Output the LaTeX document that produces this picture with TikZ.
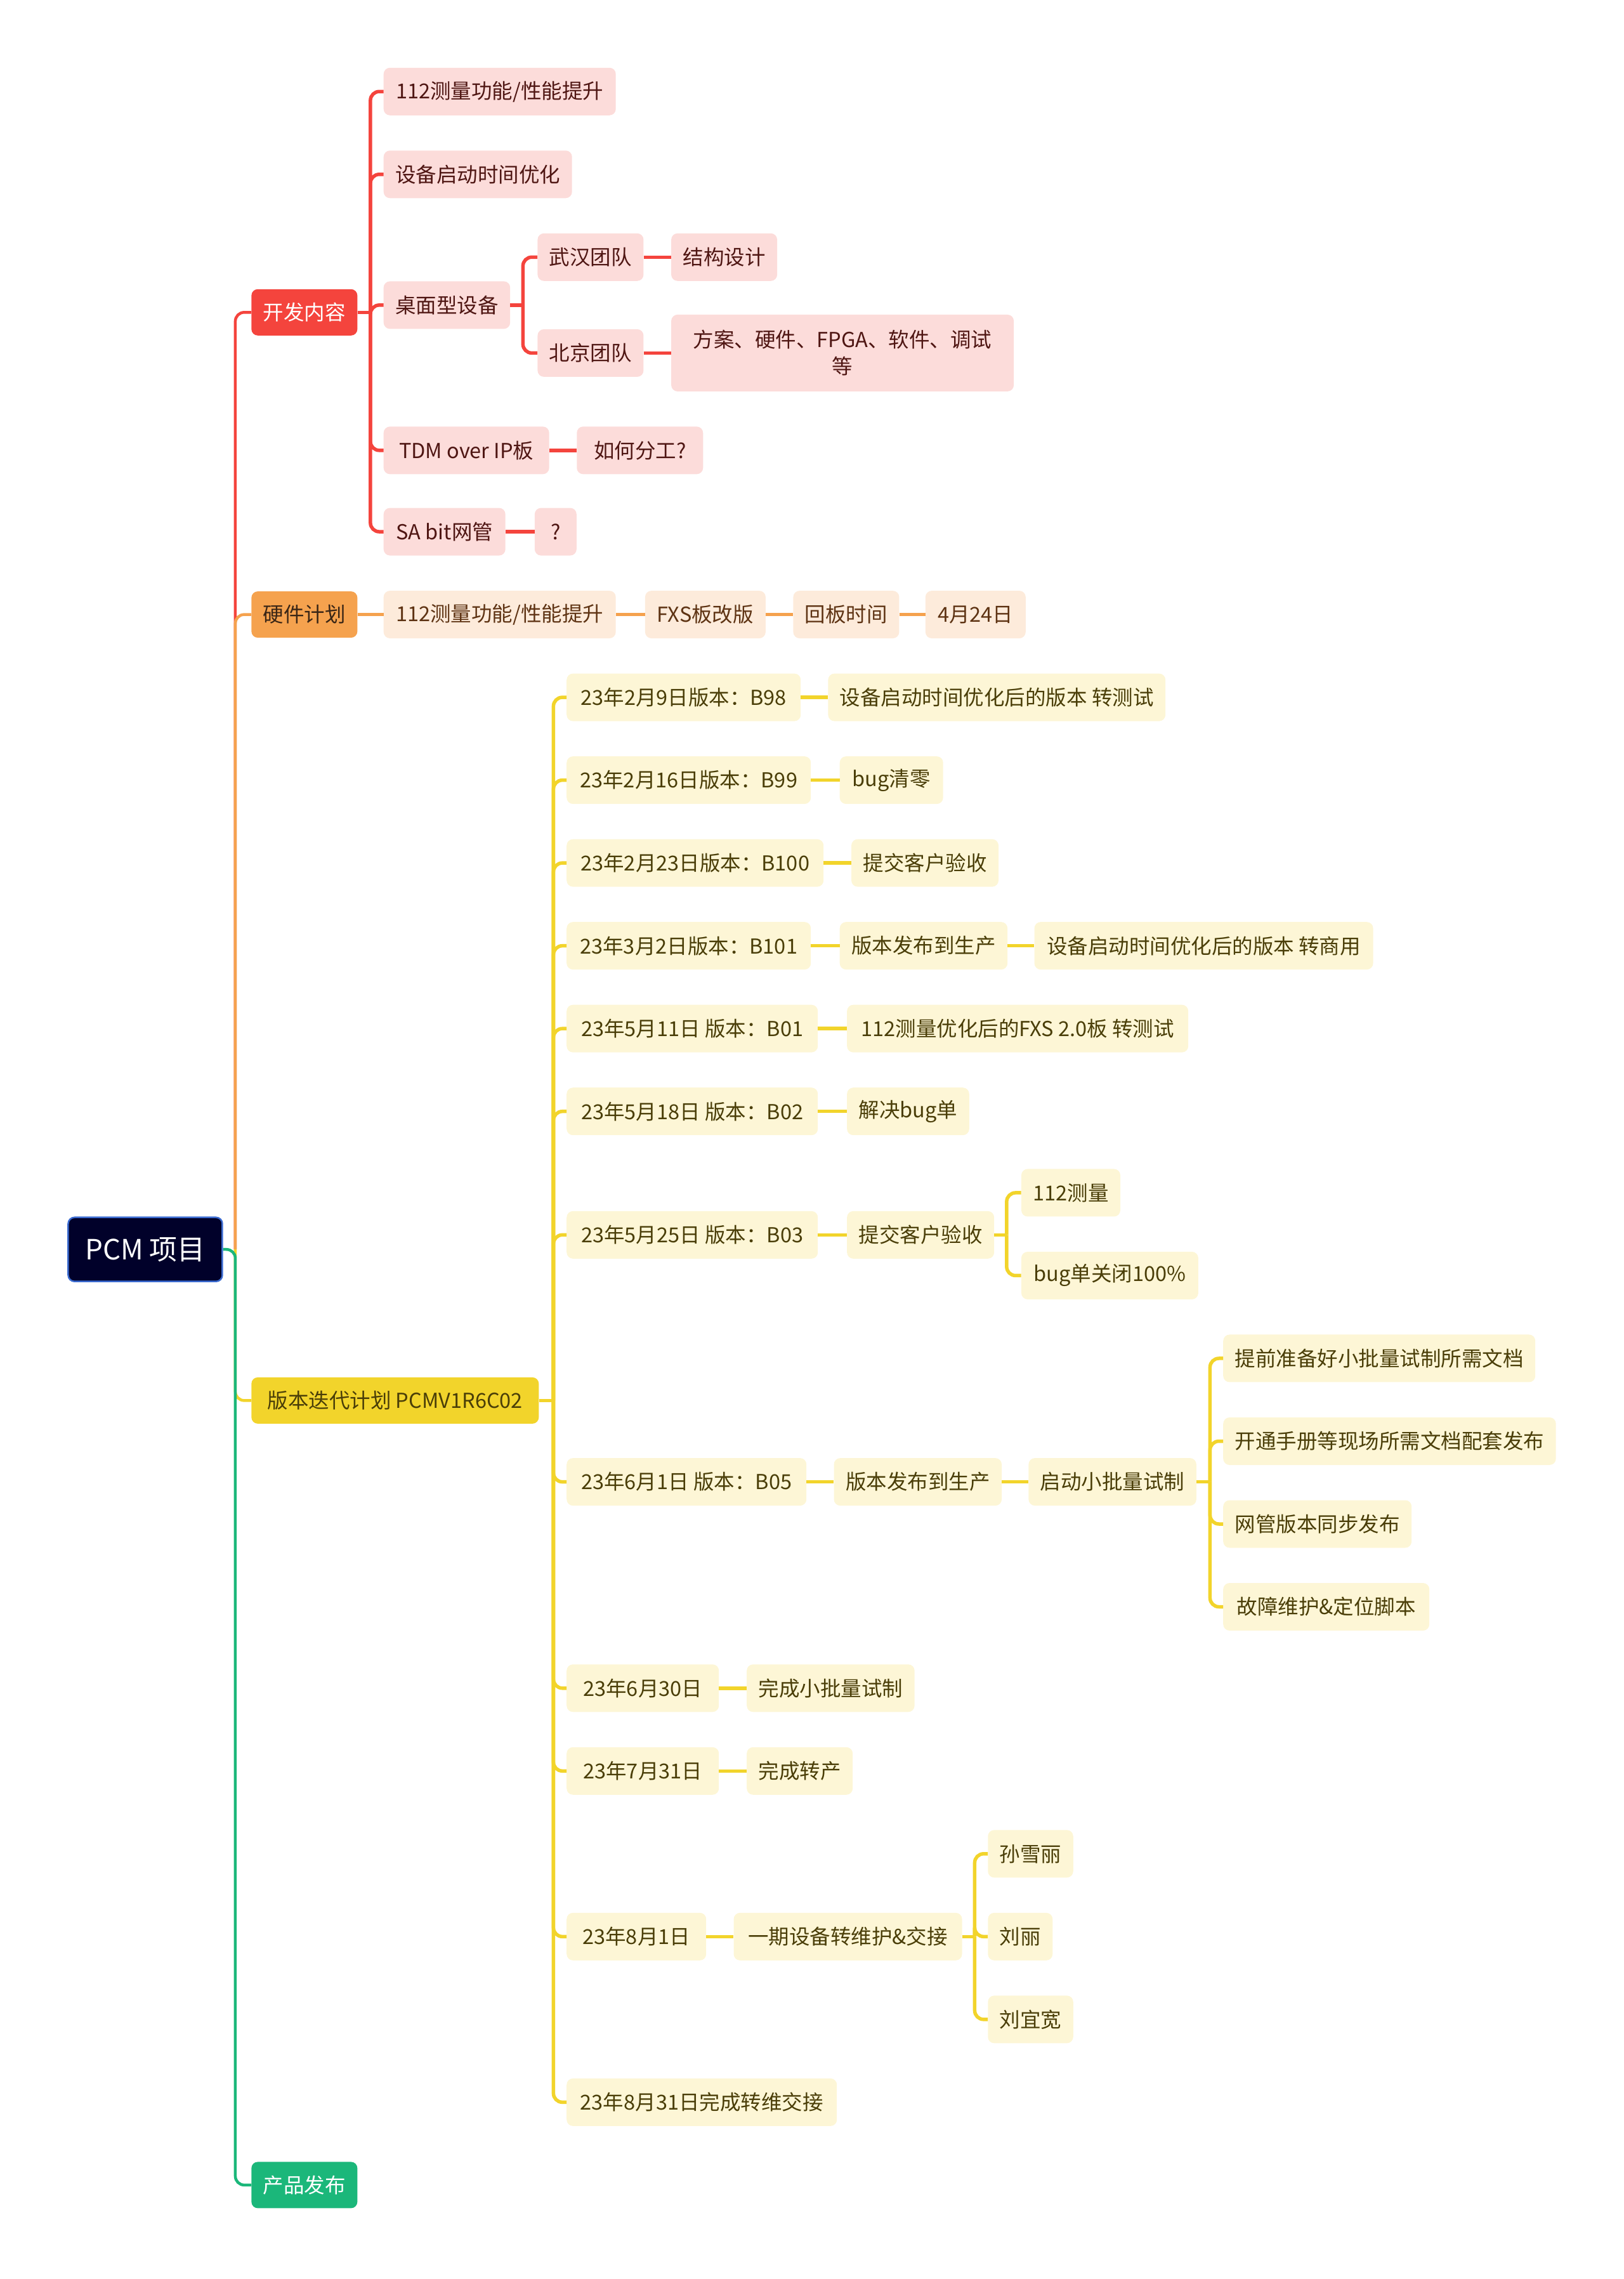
\documentclass[tikz,border=0pt]{standalone}
\usepackage{fontspec}
\setmainfont{Noto Sans CJK SC}

\definecolor{rootfill}{HTML}{01012A}
\definecolor{rootline}{HTML}{3A6AD0}
\definecolor{devred}{HTML}{F4443D}
\definecolor{devlight}{HTML}{FCDCDA}
\definecolor{devtext}{HTML}{4F1613}
\definecolor{hwor}{HTML}{F5A24E}
\definecolor{hwlight}{HTML}{FDEBDB}
\definecolor{hwtext}{HTML}{5E3313}
\definecolor{hwdark}{HTML}{3A2616}
\definecolor{veryel}{HTML}{F2D42B}
\definecolor{verlight}{HTML}{FDF6D6}
\definecolor{vertext}{HTML}{4A3E08}
\definecolor{relgreen}{HTML}{1BB77A}

\tikzset{
  topic/.style={rounded corners=10pt, minimum height=75pt, inner xsep=18.5pt, inner ysep=0pt,
    anchor=west, font=\fontsize{32.5}{42}\selectfont},
  maintopic/.style={topic, minimum height=73pt},
  devtopic/.style={topic, fill=devlight, text=devtext},
  hwtopic/.style={topic, fill=hwlight, text=hwtext},
  vertopic/.style={topic, fill=verlight, text=vertext},
  trunk/.style={line width=4.5pt, rounded corners=14pt},
  branch/.style={line width=5.5pt, rounded corners=14pt}
}

\begin{document}
\begin{tikzpicture}[x=2.2898pt, y=-2.2898pt]
\useasboundingbox (0,0) rectangle (1118,1568.7);

% root
\node[rounded corners=10pt, fill=rootfill, draw=rootline, line width=2.5pt, text=white,
  minimum width=243pt, minimum height=101pt, font=\fontsize{44}{50}\selectfont] (pcm) at (100,860) {PCM 项目};

% main topics
\node[maintopic, fill=devred, text=white] (dev) at (173,215) {开发内容};
\node[maintopic, fill=hwor, text=hwdark] (hw) at (173,423) {硬件计划};
\node[maintopic, fill=veryel, text=vertext, minimum width=453pt] (ver) at (173,964) {版本迭代计划 PCMV1R6C02};
\node[maintopic, fill=relgreen, text=white] (rel) at (173,1504) {产品发布};

% 开发内容
\node[devtopic, minimum width=366pt] (dev1) at (264,63) {112测量功能/性能提升};
\node[devtopic] (dev2) at (264,120) {设备启动时间优化};
\node[devtopic] (dev3) at (264,210) {桌面型设备};
\node[devtopic, minimum width=261pt] (dev4) at (264,310) {TDM over IP板};
\node[devtopic, minimum width=192pt] (dev5) at (264,366) {SA bit网管};
\node[devtopic] (wuhan) at (370,177) {武汉团队};
\node[devtopic] (beijing) at (370,243) {北京团队};
\node[devtopic] (struct) at (462,177) {结构设计};
\node[devtopic, align=center, minimum width=540pt, minimum height=121pt] (scheme) at (462,243) {方案、硬件、FPGA、软件、调试\\等};
\node[devtopic, minimum width=199pt] (split) at (397,310) {如何分工?};
\node[devtopic, minimum width=66pt] (qmark) at (368,366) {?};

% 硬件计划
\node[hwtopic, minimum width=366pt] (hw1) at (264,423) {112测量功能/性能提升};
\node[hwtopic, minimum width=190pt] (hw2) at (444,423) {FXS板改版};
\node[hwtopic] (hw3) at (546,423) {回板时间};
\node[hwtopic, minimum width=158pt] (hw4) at (637,423) {4月24日};

% 版本迭代计划
\node[vertopic, minimum width=369pt] (v1) at (390,480) {23年2月9日版本：B98};
\node[vertopic, minimum width=531pt] (v1a) at (570,480) {设备启动时间优化后的版本 转测试};
\node[vertopic, minimum width=385pt] (v2) at (390,537) {23年2月16日版本：B99};
\node[vertopic, minimum width=163pt] (v2a) at (578,537) {bug清零};
\node[vertopic, minimum width=405pt] (v3) at (390,594) {23年2月23日版本：B100};
\node[vertopic] (v3a) at (586,594) {提交客户验收};
\node[vertopic, minimum width=385pt] (v4) at (390,651) {23年3月2日版本：B101};
\node[vertopic] (v4a) at (578,651) {版本发布到生产};
\node[vertopic, minimum width=534pt] (v4b) at (712,651) {设备启动时间优化后的版本 转商用};
\node[vertopic, minimum width=396pt] (v5) at (390,708) {23年5月11日 版本：B01};
\node[vertopic, minimum width=538pt] (v5a) at (583,708) {112测量优化后的FXS 2.0板 转测试};
\node[vertopic, minimum width=396pt] (v6) at (390,765) {23年5月18日 版本：B02};
\node[vertopic, minimum width=190pt] (v6a) at (583,765) {解决bug单};
\node[vertopic, minimum width=396pt] (v7) at (390,850) {23年5月25日 版本：B03};
\node[vertopic] (v7a) at (583,850) {提交客户验收};
\node[vertopic, minimum width=153pt] (v7b) at (703,821) {112测量};
\node[vertopic, minimum width=279pt] (v7c) at (703,878) {bug单关闭100\%};
\node[vertopic, minimum width=378pt] (v8) at (390,1020) {23年6月1日 版本：B05};
\node[vertopic] (v8a) at (574,1020) {版本发布到生产};
\node[vertopic] (v8b) at (708,1020) {启动小批量试制};
\node[vertopic] (v8c) at (842,935) {提前准备好小批量试制所需文档};
\node[vertopic] (v8d) at (842,992) {开通手册等现场所需文档配套发布};
\node[vertopic] (v8e) at (842,1049) {网管版本同步发布};
\node[vertopic, minimum width=325pt] (v8f) at (842,1106) {故障维护\&定位脚本};
\node[vertopic, minimum width=240pt] (v9) at (390,1162) {23年6月30日};
\node[vertopic] (v9a) at (514,1162) {完成小批量试制};
\node[vertopic, minimum width=240pt] (v10) at (390,1219) {23年7月31日};
\node[vertopic] (v10a) at (514,1219) {完成转产};
\node[vertopic, minimum width=220pt] (v11) at (390,1333) {23年8月1日};
\node[vertopic, minimum width=360pt] (v11a) at (505,1333) {一期设备转维护\&交接};
\node[vertopic] (v11b) at (680,1276) {孙雪丽};
\node[vertopic] (v11c) at (680,1333) {刘丽};
\node[vertopic] (v11d) at (680,1390) {刘宜宽};
\node[vertopic, minimum width=426pt] (v12) at (390,1447) {23年8月31日完成转维交接};

% junctions
\coordinate (pcmj) at (162,860);
\coordinate (devj) at (255,215);
\coordinate (deskj) at (360,210);
\coordinate (verj) at (381,964);
\coordinate (v7j) at (693,850);
\coordinate (v8j) at (833,1020);
\coordinate (v11j) at (671,1333);

% trunk
\draw[trunk, devred] (pcmj) |- (dev.west);
\draw[trunk, hwor] (pcmj) |- (hw.west);
\draw[trunk, veryel] (pcmj) |- (ver.west);
\draw[trunk, relgreen] (pcm.east) -- (pcmj) |- (rel.west);

% red branch
\draw[branch, devred] (dev.east) -- (devj);
\foreach \c in {dev1,dev2,dev3,dev4,dev5}
  \draw[branch, devred] (devj) |- (\c.west);
\draw[branch, devred] (dev3.east) -- (deskj);
\foreach \c in {wuhan,beijing}
  \draw[branch, devred] (deskj) |- (\c.west);
\draw[branch, devred] (wuhan.east) -- (struct.west);
\draw[branch, devred] (beijing.east) -- (scheme.west);
\draw[branch, devred] (dev4.east) -- (split.west);
\draw[branch, devred] (dev5.east) -- (qmark.west);

% orange branch
\draw[branch, hwor] (hw.east) -- (hw1.west);
\draw[branch, hwor] (hw1.east) -- (hw2.west);
\draw[branch, hwor] (hw2.east) -- (hw3.west);
\draw[branch, hwor] (hw3.east) -- (hw4.west);

% yellow branch
\draw[branch, veryel] (ver.east) -- (verj);
\foreach \c in {v1,v2,v3,v4,v5,v6,v7,v8,v9,v10,v11,v12}
  \draw[branch, veryel] (verj) |- (\c.west);
\foreach \a/\b in {v1/v1a,v2/v2a,v3/v3a,v4/v4a,v4a/v4b,v5/v5a,v6/v6a,v7/v7a,v8/v8a,v8a/v8b,v9/v9a,v10/v10a,v11/v11a}
  \draw[branch, veryel] (\a.east) -- (\b.west);
\draw[branch, veryel] (v7a.east) -- (v7j);
\foreach \c in {v7b,v7c}
  \draw[branch, veryel] (v7j) |- (\c.west);
\draw[branch, veryel] (v8b.east) -- (v8j);
\foreach \c in {v8c,v8d,v8e,v8f}
  \draw[branch, veryel] (v8j) |- (\c.west);
\draw[branch, veryel] (v11a.east) -- (v11j);
\foreach \c in {v11b,v11c,v11d}
  \draw[branch, veryel] (v11j) |- (\c.west);
\end{tikzpicture}
\end{document}
